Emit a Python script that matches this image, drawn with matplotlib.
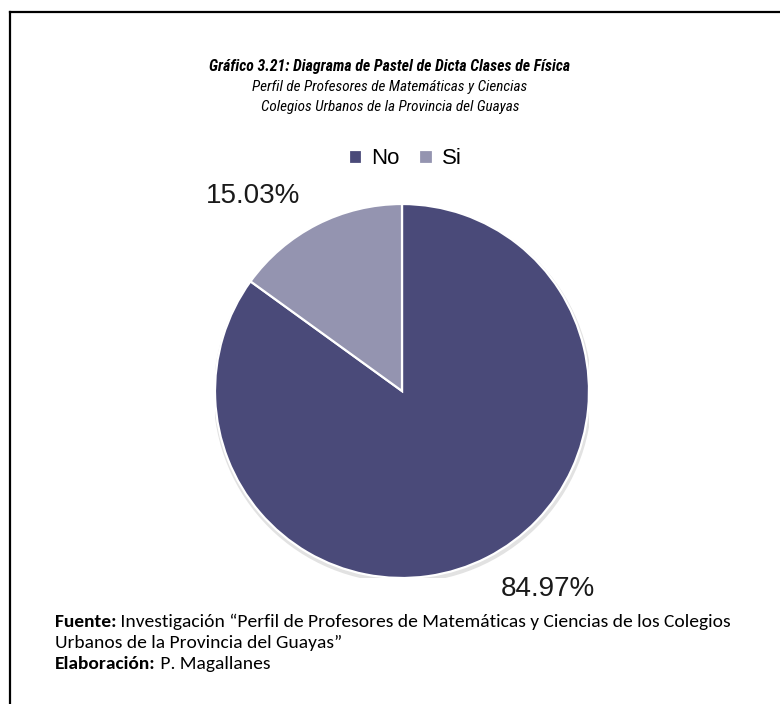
import matplotlib
matplotlib.use("Agg")
import matplotlib.pyplot as plt
from matplotlib.lines import Line2D
from matplotlib.patches import Circle
from matplotlib.text import Annotation

categories = ["No", "Si"]
values = [84.97, 15.03]
colors = ["#4a4a79", "#9494b0"]

title = "Gráfico 3.21: Diagrama de Pastel de Dicta Clases de Física"
subtitle1 = "Perfil de Profesores de Matemáticas y Ciencias"
subtitle2 = "Colegios Urbanos de la Provincia del Guayas"
fuente_lbl = "Fuente:"
fuente_txt = " Investigación “Perfil de Profesores de Matemáticas y Ciencias de los Colegios"
fuente_txt2 = "Urbanos de la Provincia del Guayas”"
elab_lbl = "Elaboración:"
elab_txt = " P. Magallanes"

W, H = 780, 704
fig = plt.figure(figsize=(W / 100, H / 100), dpi=100)
fig.patch.set_facecolor("white")


def fx(px):
    return px / W


def fy(py):
    return 1 - py / H


# border (cut at right and bottom)
fig.add_artist(Line2D([fx(10), fx(10)], [fy(12), fy(H + 5)], color="black", lw=1.6,
                      transform=fig.transFigure))
fig.add_artist(Line2D([fx(10), fx(W + 5)], [fy(12), fy(12)], color="black", lw=1.6,
                      transform=fig.transFigure))

narrow = ["Roboto Condensed", "Liberation Sans"]
fig.text(0.5, fy(71), title, ha="center", va="baseline", fontsize=11.3,
         fontweight="bold", fontstyle="italic", family=narrow)
fig.text(0.5, fy(91), subtitle1, ha="center", va="baseline", fontsize=10.9,
         fontstyle="italic", family=narrow)
fig.text(0.5, fy(111), subtitle2, ha="center", va="baseline", fontsize=10.9,
         fontstyle="italic", family=narrow)

# pie
cx, cy, r = 402, 391, 187
ax = fig.add_axes([fx(cx - r), fy(cy + r), 2 * r / W, 2 * r / H])
ax.add_patch(Circle((0.004, -0.014), 1.012, color="#d6d6d6", alpha=0.7, zorder=0, lw=0))
wedges, _ = ax.pie(values, colors=colors, startangle=90, counterclock=False,
                   wedgeprops=dict(edgecolor="white", linewidth=1.6))
ax.set_xlim(-1, 1)
ax.set_ylim(-1, 1)
ax.set_aspect("equal")
ax.axis("off")

label_pos = {"Si": (-0.797, 1.043), "No": (0.781, -1.059)}
for cat, v in zip(categories, values):
    x, y = label_pos[cat]
    ax.text(x, y, f"{v:.2f}%", ha="center", va="center", fontsize=20,
            family="Liberation Sans", color="#1a1a1a", clip_on=False)

fig.legend(wedges, categories, loc="center", bbox_to_anchor=(fx(405), fy(159)),
           ncol=2, frameon=False, prop={"family": "Liberation Sans", "size": 16},
           handlelength=0.6, handleheight=0.6, handletextpad=0.4, columnspacing=0.9)

# footnote
foot = ["Carlito", "Lato"]
fs = 14
t1 = fig.text(fx(55), fy(627), fuente_lbl, ha="left", va="baseline", fontsize=fs,
              fontweight="bold", family=foot)
fig.add_artist(Annotation(fuente_txt, xy=(1, 0), xycoords=t1, ha="left", va="bottom",
                          fontsize=fs, family=foot))
fig.text(fx(55), fy(648), fuente_txt2, ha="left", va="baseline", fontsize=fs, family=foot)
t3 = fig.text(fx(55), fy(669), elab_lbl, ha="left", va="baseline", fontsize=fs,
              fontweight="bold", family=foot)
fig.add_artist(Annotation(elab_txt, xy=(1, 0), xycoords=t3, ha="left", va="bottom",
                          fontsize=fs, family=foot))

fig.savefig("out.png", dpi=100, facecolor="white")
